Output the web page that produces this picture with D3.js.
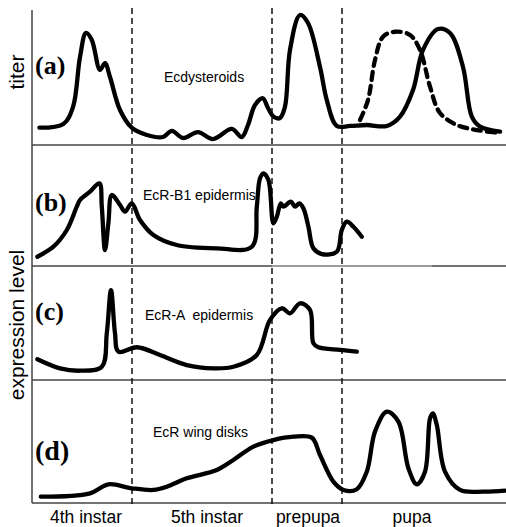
<!DOCTYPE html>
<html>
<head>
<meta charset="utf-8">
<script src="https://cdn.jsdelivr.net/npm/d3@7"></script>
<style>
  body { margin: 0; background: #fff; }
  svg { display: block; }
  .curve { fill: none; stroke: #000; stroke-width: 4.3; stroke-linejoin: round; stroke-linecap: round; }
  .frame { stroke: #444; stroke-width: 1.5; }
  .stage { stroke: #111; stroke-width: 1.5; stroke-dasharray: 6 4; }
  .tag { font-family: "Liberation Serif", "Times New Roman", serif; font-weight: bold; }
  .gene { font-family: "Liberation Sans", Arial, sans-serif; font-size: 14px; }
  .ylab { font-family: "Liberation Sans", Arial, sans-serif; font-size: 21px; }
  .xlab { font-family: "Liberation Sans", Arial, sans-serif; font-size: 17.5px; }
</style>
</head>
<body>
<div class="chart"></div>
<script>
// time (arbitrary units), relative level 0-100 inside each panel
const ecdysteroids = [[3.7,12.8],[15.7,15.6],[20.5,28.1],[24,65.2],[27,83],[29.9,77.8],[34,55.6],[36.5,60.7],[39,50.4],[44,25.9],[50,12.6],[57.4,7.4],[65.5,5.9],[69.9,10.4],[75.5,5.2],[83,9.6],[90.5,4.4],[99.9,11.9],[104.9,5.9],[108,14.8],[111.5,29.6],[115.4,34.6],[118,27.4],[121,20.7],[124,20],[126.5,28.4],[129,70.4],[134,96.3],[138,90.4],[144,57.8],[147.4,33.3],[152.4,14.1],[159,14.1],[167.4,14.8],[177.4,14.1],[184,21],[190.5,40.7],[195.5,70.4],[203,85.9],[209,83],[215.5,57.8],[219.9,21],[224,13.6],[234,9.9]];
const ecdysteroidsAlt = [[164,18.5],[168,33.3],[171.5,63],[175.5,80.2],[181.5,83.9],[189,81.5],[194,70.4],[199,43.2],[204,23.7],[212.4,14.8],[222.4,11.1],[234,8.9]];
const ecrB1 = [[2.7,7.6],[10.7,15.8],[17.4,29.5],[22.4,48.6],[24,54.1],[29,60.9],[33.7,67.8],[34.9,48.6],[36.5,13.1],[38.2,35.2],[39.9,58.2],[44,50],[46.5,44.5],[49.9,51.4],[54,37.7],[60.7,25.4],[72.4,17.2],[92.4,14.5],[109.9,15.8],[112.4,48.6],[114,71.9],[115.7,76],[118.2,70.5],[120.7,35],[122.4,40.4],[124.4,51.4],[125.7,48.6],[129.4,52.7],[131.5,48.6],[133.7,51.4],[135.7,47.3],[138.2,32.2],[140.7,14.5],[144.9,9.8],[152.4,11.7],[154.9,29.5],[157.4,36.3],[160.7,32.2],[164.9,24]];
const ecrA = [[2.7,18.3],[14,10.3],[24,8.2],[34.9,11.7],[37.4,41.2],[39.5,79.4],[41.5,41.2],[43.2,25],[52.4,28.9],[64,22.1],[77.4,13.2],[90.7,10.3],[100.7,11.7],[112.4,22.1],[119,53],[124.9,63.3],[129,58.9],[134,67.7],[139,61.8],[140.7,32.4],[143.2,28.9],[154,26.5],[162.4,25]];
const ecrWing = [[4.4,3.6],[29,6.4],[38.2,13.9],[49.9,10.6],[60.7,9.2],[67.4,11.9],[77.4,18.9],[92.4,25.8],[100.7,34.2],[110.7,45.3],[120.7,50.8],[130.7,53.6],[139.9,52.8],[144,38.3],[150.7,16.1],[155.7,9.2],[162.4,9.8],[167.4,24.4],[171.5,57.8],[177.4,74.4],[183.2,66.1],[188.2,27.3],[192.4,13.9],[196.5,24.4],[199,68.9],[200.4,73.1],[202.4,63.3],[206.5,24.4],[214,9.2],[225.7,7.8],[236.5,8.6]];

const stageBounds = [50, 120, 155];
const stageNames = ['4th instar', '5th instar', 'prepupa', 'pupa'];
const stageCenters = [27, 87.5, 138, 190];

const panelTags = ['(a)', '(b)', '(c)', '(d)'];
const panelGenes = ['Ecdysteroids', 'EcR-B1 epidermis', 'EcR-A  epidermis', 'EcR wing disks'];

const width = 506, height = 527;
const x = d3.scaleLinear().domain([0, 237]).range([32, 506]);

const panels = [
  { top: 10, bottom: 145, line: 145, tagY: 74, tagSize: 26, geneX: 66, geneY: 82, geneSize: 13.5, series: [ecdysteroids], dashed: ecdysteroidsAlt },
  { top: 144, bottom: 266, line: 266, tagY: 211, tagSize: 26, geneX: 55.5, geneY: 200, series: [ecrB1] },
  { top: 266.7, bottom: 380, line: 380, tagY: 320, tagSize: 26, geneX: 56.5, geneY: 320, series: [ecrA] },
  { top: 381, bottom: 501, line: 503, tagY: 460, tagSize: 28, geneX: 60.5, geneY: 437, series: [ecrWing] }
];

const svg = d3.select('.chart').append('svg').attr('width', width).attr('height', height);

// left axis and panel separators
svg.append('line').attr('class', 'frame')
  .attr('x1', x(0)).attr('x2', x(0)).attr('y1', 10).attr('y2', 503);
svg.selectAll('line.sep').data(panels).join('line')
  .attr('class', 'frame sep')
  .attr('x1', x(0)).attr('x2', x(237))
  .attr('y1', d => d.line).attr('y2', d => d.line);
// lighter segment of the b/c separator
svg.append('line').attr('stroke', '#aaa').attr('stroke-width', 1.5)
  .attr('x1', x(120)).attr('x2', x(200)).attr('y1', 266).attr('y2', 266);

// stage boundaries
svg.selectAll('line.stage').data(stageBounds).join('line')
  .attr('class', 'stage')
  .attr('x1', d => x(d)).attr('x2', d => x(d))
  .attr('y1', 8).attr('y2', 506);

panels.forEach((p, i) => {
  const y = d3.scaleLinear().domain([0, 100]).range([p.bottom, p.top]);
  const line = d3.line().x(d => x(d[0])).y(d => y(d[1])).curve(d3.curveCatmullRom.alpha(0.5));
  const g = svg.append('g');

  p.series.forEach(s => g.append('path').attr('class', 'curve').attr('d', line(s)));
  if (p.dashed) {
    g.append('path').attr('class', 'curve')
      .attr('stroke-dasharray', '8 6').attr('stroke-linecap', 'butt')
      .attr('d', line(p.dashed));
  }

  g.append('text').attr('class', 'tag')
    .attr('x', 35).attr('y', p.tagY)
    .attr('font-size', p.tagSize)
    .text(panelTags[i]);

  g.append('text').attr('class', 'gene')
    .attr('x', x(p.geneX)).attr('y', p.geneY)
    .attr('font-size', p.geneSize || 14)
    .style('white-space', 'pre')
    .text(panelGenes[i]);
});

// y titles
svg.append('text').attr('class', 'ylab')
  .attr('transform', 'translate(24,72) rotate(-90)')
  .attr('text-anchor', 'middle')
  .text('titer');
svg.append('text').attr('class', 'ylab')
  .attr('transform', 'translate(24,325) rotate(-90)')
  .attr('text-anchor', 'middle')
  .text('expression level');

// stage names
svg.selectAll('text.xlab').data(stageNames).join('text')
  .attr('class', 'xlab')
  .attr('x', (d, i) => x(stageCenters[i]))
  .attr('y', 523)
  .attr('text-anchor', 'middle')
  .text(d => d);
</script>
</body>
</html>
